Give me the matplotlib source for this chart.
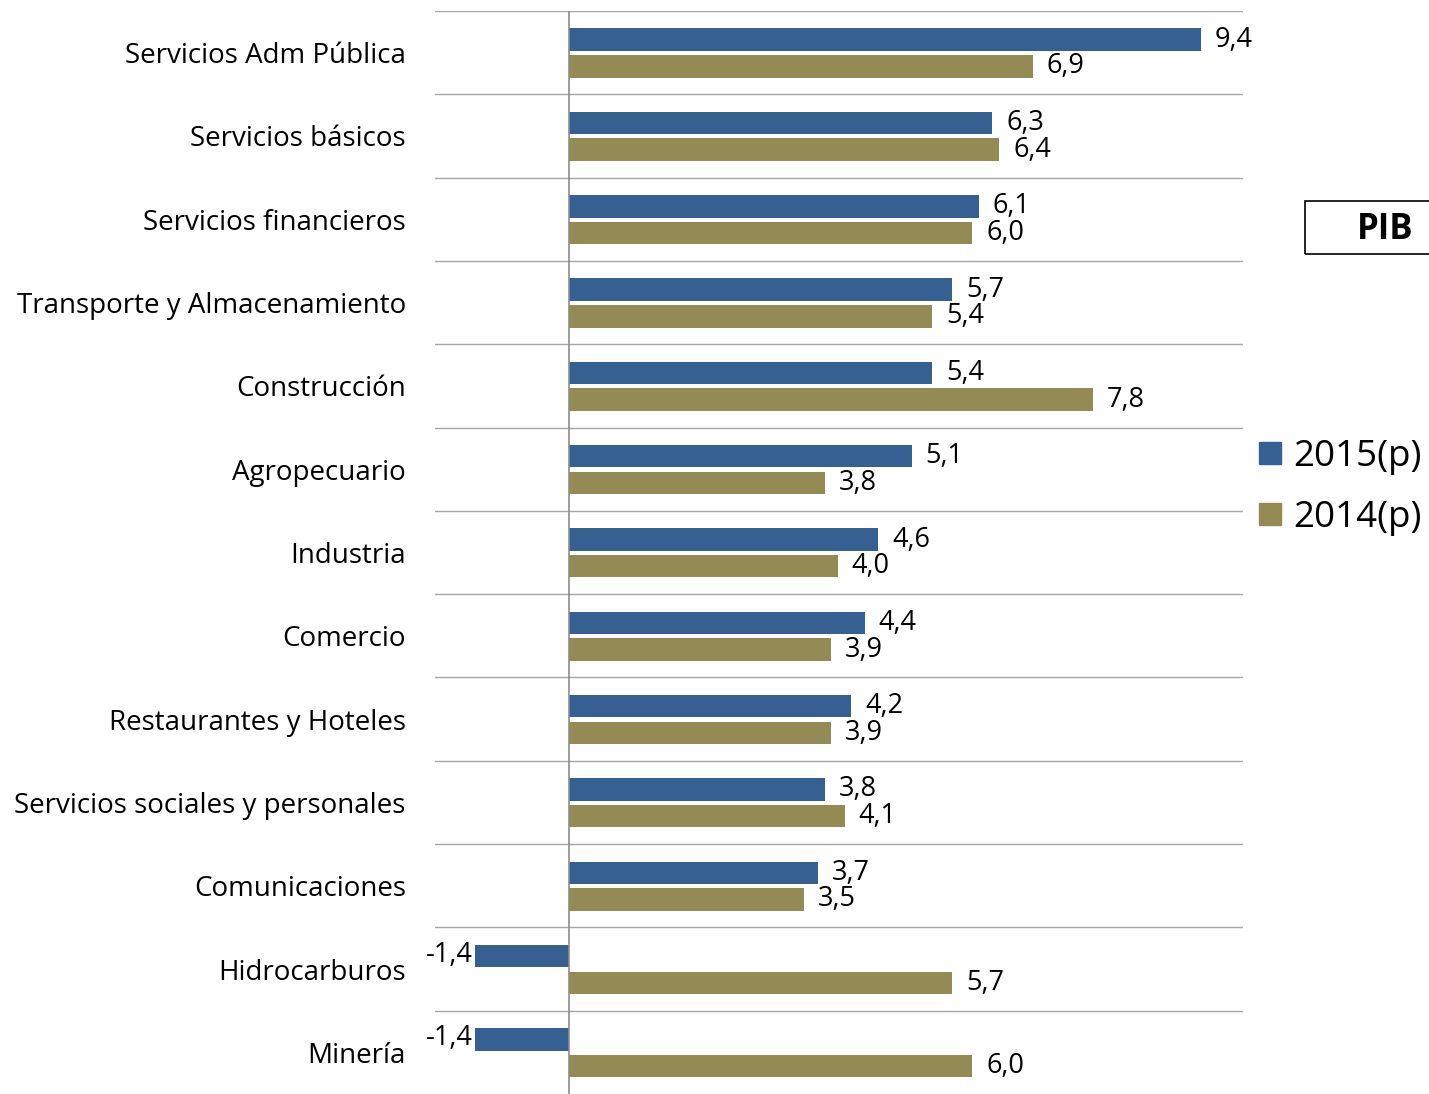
import numpy as np
import matplotlib.pyplot as plt
from matplotlib.patches import Rectangle
from matplotlib.lines import Line2D

# data
categories = ['Servicios Adm Pública', 'Servicios básicos', 'Servicios financieros',
              'Transporte y Almacenamiento', 'Construcción', 'Agropecuario', 'Industria',
              'Comercio', 'Restaurantes y Hoteles', 'Servicios sociales y personales',
              'Comunicaciones', 'Hidrocarburos', 'Minería']
values_2015 = [9.4, 6.3, 6.1, 5.7, 5.4, 5.1, 4.6, 4.4, 4.2, 3.8, 3.7, -1.4, -1.4]
values_2014 = [6.9, 6.4, 6.0, 5.4, 7.8, 3.8, 4.0, 3.9, 3.9, 4.1, 3.5, 5.7, 6.0]
series_names = ['2015(p)', '2014(p)']

BLUE = '#376092'
GOLD = '#948a54'
GRID = '#a6a6a6'

plt.rcParams['font.family'] = ['Open Sans', 'DejaVu Sans']

fig = plt.figure(figsize=(14.29, 10.94), dpi=100)
ax = fig.add_axes([0.3044, 0.0, 0.5654, 0.99])

y = np.arange(len(categories))
h = 0.27
ax.barh(y - 0.155, values_2015, height=h, color=BLUE, zorder=3)
ax.barh(y + 0.165, values_2014, height=h, color=GOLD, zorder=3)

def fmt(v):
    return f'{v:.1f}'.replace('.', ',')

for yi, v in zip(y, values_2015):
    if v >= 0:
        ax.annotate(fmt(v), (v, yi - 0.155), xytext=(10, 0), textcoords='offset points',
                    ha='left', va='center', fontsize=19.5)
    else:
        ax.annotate(fmt(v), (v, yi - 0.155), xytext=(-2, 1), textcoords='offset points',
                    ha='right', va='center', fontsize=19.5)
for yi, v in zip(y, values_2014):
    ax.annotate(fmt(v), (v, yi + 0.165), xytext=(10, 0), textcoords='offset points',
                ha='left', va='center', fontsize=19.5)

ax.set_xlim(-2.0, 10.03)
ax.set_ylim(len(categories) - 0.5, -0.5)

for b in np.arange(-0.5, len(categories) - 0.5, 1.0):
    ax.axhline(b, color=GRID, lw=1, zorder=1)
ax.axvline(0, color='#8c8c8c', lw=1.2, zorder=4)

ax.set_yticks(y, labels=categories, fontsize=20)
ax.tick_params(axis='y', length=0, pad=21)
ax.set_xticks([])
for s in ax.spines.values():
    s.set_visible(False)

# legend
handles = [Line2D([], [], marker='s', ls='none', markersize=16, color=BLUE),
           Line2D([], [], marker='s', ls='none', markersize=16, color=GOLD)]
fig.legend(handles, series_names, loc='center left', bbox_to_anchor=(0.8757, 0.5548),
           frameon=False, fontsize=26.5, handlelength=0.6, handletextpad=0.35,
           labelspacing=0.68, borderaxespad=0, borderpad=0.2)

# PIB box
fig.patches.append(Rectangle((1305 / 1429, 1 - 254 / 1094), 0.2, 53 / 1094,
                             transform=fig.transFigure, fill=False, ec='black', lw=1.2))
fig.text(1414 / 1429, 1 - 230 / 1094, 'PIB', ha='right', va='center',
         fontsize=25, fontweight='bold')

fig.savefig('out.png', dpi=100)
